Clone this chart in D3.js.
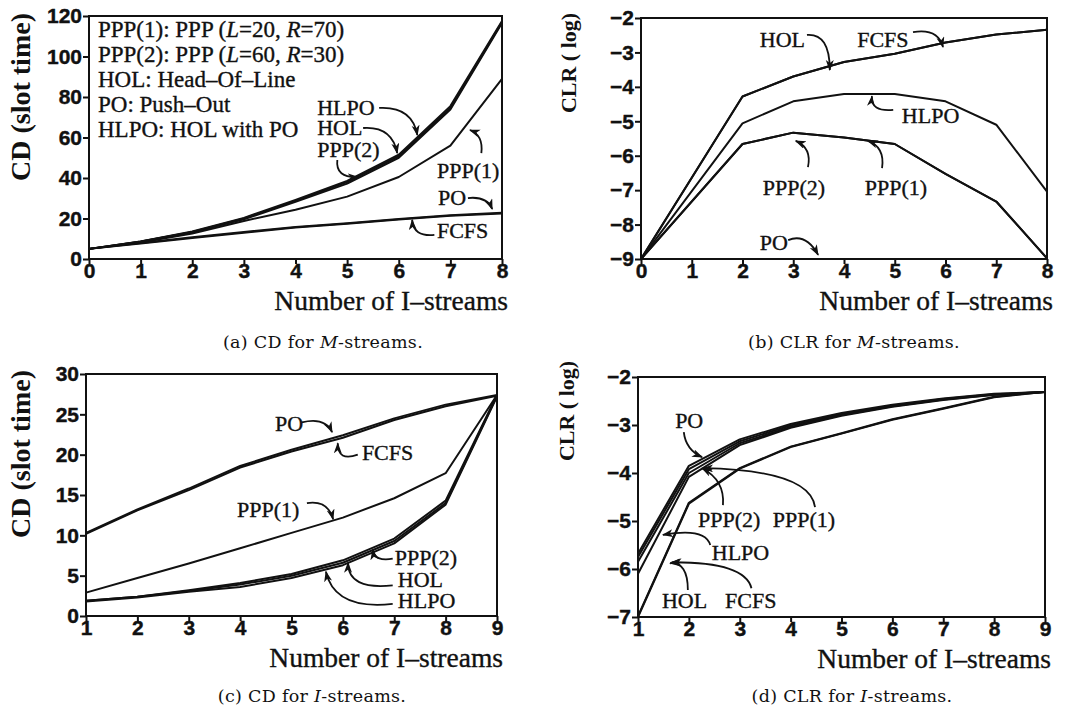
<!DOCTYPE html>
<html>
<head>
<meta charset="utf-8">
<script src="https://cdn.jsdelivr.net/npm/d3@7"></script>
<style>
  body { margin: 0; background: #fff; }
  svg { display: block; }
</style>
</head>
<body>
<div id="content"></div>
<script>
// ---- data ----
var xM = [0, 1, 2, 3, 4, 5, 6, 7, 8];
var xMclr = [0, 2, 3, 4, 5, 6, 7, 8];
var xI = [1, 2, 3, 4, 5, 6, 7, 8, 9];

// (a) CD for M-streams
var cdM_hlpo = [5, 8.7, 13.6, 20.3, 29.2, 38.6, 51.5, 75.5, 117.5];
var cdM_hol  = [5, 8.6, 13.4, 20.0, 28.7, 38.0, 50.8, 74.6, 117];
var cdM_ppp2 = [5, 8.5, 13.2, 19.6, 28.2, 37.2, 50.0, 73.8, 116.5];
var cdM_ppp1 = [5, 8.2, 12.6, 18.8, 24.3, 30.8, 40.5, 56, 89];
var cdM_po   = [5, 7.9, 10.7, 13.3, 15.8, 17.7, 19.8, 21.6, 22.8];
var cdM_fcfs = [5, 7.7, 10.4, 13.0, 15.5, 17.4, 19.5, 21.3, 22.5];

// (b) CLR for M-streams (log)
var clrM_hol  = [-9, -4.28, -3.70, -3.28, -3.04, -2.71, -2.48, -2.34];
var clrM_fcfs = [-9, -4.28, -3.70, -3.28, -3.04, -2.71, -2.48, -2.34];
var clrM_hlpo = [-9, -5.06, -4.42, -4.21, -4.21, -4.42, -5.10, -7.04];
var clrM_ppp1 = [-9, -5.66, -5.33, -5.47, -5.66, -6.53, -7.33, -8.98];
var clrM_ppp2 = [-9, -5.66, -5.33, -5.47, -5.66, -6.53, -7.33, -8.98];
var clrM_po   = [-9, -9, -9, -9, -9, -9, -9, -9];

// (c) CD for I-streams
var cdI_po   = [10.3, 13.2, 15.8, 18.6, 20.6, 22.4, 24.5, 26.2, 27.4];
var cdI_fcfs = [10.2, 13.1, 15.6, 18.4, 20.4, 22.1, 24.3, 26.0, 27.3];
var cdI_ppp1 = [2.9, 4.7, 6.5, 8.4, 10.3, 12.2, 14.6, 17.7, 27.4];
var cdI_ppp2 = [1.9, 2.4, 3.2, 4.1, 5.2, 6.9, 9.6, 14.3, 27.4];
var cdI_hol  = [1.9, 2.4, 3.1, 3.9, 5.0, 6.6, 9.3, 14.0, 27.3];
var cdI_hlpo = [1.8, 2.3, 3.0, 3.6, 4.7, 6.3, 9.0, 13.8, 27.2];

// (d) CLR for I-streams (log)
var clrI_po   = [-5.68, -3.85, -3.30, -2.98, -2.75, -2.58, -2.45, -2.35, -2.31];
var clrI_ppp2 = [-5.75, -3.92, -3.34, -3.01, -2.77, -2.60, -2.46, -2.36, -2.31];
var clrI_ppp1 = [-5.85, -4.00, -3.38, -3.04, -2.79, -2.61, -2.47, -2.37, -2.31];
var clrI_hlpo = [-6.10, -4.08, -3.42, -3.06, -2.81, -2.62, -2.48, -2.37, -2.31];
var clrI_hol  = [-7.00, -4.64, -3.91, -3.46, -3.18, -2.89, -2.66, -2.42, -2.31];
var clrI_fcfs = [-6.98, -4.62, -3.90, -3.45, -3.17, -2.88, -2.65, -2.41, -2.31];

// tick values
var ticksXM = [0, 1, 2, 3, 4, 5, 6, 7, 8];
var ticksXI = [1, 2, 3, 4, 5, 6, 7, 8, 9];
var ticksCdM = [0, 20, 40, 60, 80, 100, 120];
var ticksClr = [-9, -8, -7, -6, -5, -4, -3, -2];
var ticksCdI = [0, 5, 10, 15, 20, 25, 30];
var ticksClrI = [-7, -6, -5, -4, -3, -2];

// legend of panel (a); second item 1 = italic
var legendLines = [
  [["PPP(1): PPP ("], ["L", 1], ["=20, "], ["R", 1], ["=70)"]],
  [["PPP(2): PPP ("], ["L", 1], ["=60, "], ["R", 1], ["=30)"]],
  [["HOL: Head\u2013Of\u2013Line"]],
  [["PO: Push\u2013Out"]],
  [["HLPO: HOL with PO"]]
];

// annotations: label, text x/y, arrow start, control, tip (data units)
var notesA = [
  ["HLPO",   4.42, 71.1, 5.62, 74.6, 6.26, 75.5, 6.36, 61.2],
  ["HOL",    4.42, 61.2, 5.31, 64.7, 5.87, 65.7, 5.97, 52.3],
  ["PPP(2)", 4.42, 50.4, 4.81, 48.9, 4.77, 40.0, 5.21, 40.5],
  ["PPP(1)", 6.74, 40.0, 7.60, 52.3, 7.64, 61.2, 7.38, 63.7],
  ["PO",     6.76, 26.7, 7.34, 30.1, 7.71, 31.1, 7.81, 24.7],
  ["FCFS",   6.74, 10.4, 6.69, 11.9, 6.28, 10.9, 6.26, 19.3]
];
var notesB = [
  ["HOL",    2.34, -2.84, 3.27, -2.49, 3.72, -2.44, 3.72, -3.51],
  ["FCFS",   4.26, -2.84, 5.36, -2.41, 5.85, -2.29, 5.95, -2.84],
  ["HLPO",   5.14, -5.05, 4.97, -4.67, 4.52, -4.73, 4.55, -4.27],
  ["PPP(2)", 2.40, -7.14, 3.29, -6.33, 3.37, -5.78, 3.05, -5.57],
  ["PPP(1)", 4.41, -7.14, 4.75, -6.36, 4.81, -5.75, 4.47, -5.57],
  ["PO",     2.34, -8.74, 2.90, -8.45, 3.25, -8.24, 3.49, -8.88]
];
var notesC = [
  ["PO",     4.68, 22.9, 5.20, 24.0, 5.65, 24.7, 5.79, 22.8],
  ["FCFS",   6.37, 19.3, 6.29, 20.0, 5.90, 19.1, 5.90, 21.4],
  ["PPP(1)", 3.94, 12.3, 5.30, 14.0, 5.71, 14.4, 5.81, 12.0],
  ["PPP(2)", 7.01, 6.3, 6.97, 7.1, 6.62, 6.7, 6.58, 8.2],
  ["HOL",    7.07, 3.6, 6.97, 3.8, 6.10, 3.2, 6.10, 6.6],
  ["HLPO",   7.07, 1.0, 6.97, 1.5, 5.84, 0.7, 5.67, 5.5]
];
var notesD = [
  ["PO",     1.73, -3.06, 1.90, -3.15, 1.94, -3.52, 2.26, -3.67],
  ["PPP(2)", 2.18, -5.12, 2.67, -4.67, 2.71, -4.15, 2.26, -3.90],
  ["PPP(1)", 3.65, -5.12, 4.48, -4.71, 4.38, -3.94, 2.28, -3.90],
  ["HLPO",   2.45, -5.81, 2.42, -5.50, 2.32, -5.13, 1.49, -5.29],
  ["HOL",    1.47, -6.81, 1.98, -6.44, 1.98, -5.85, 1.63, -5.88],
  ["FCFS",   2.71, -6.81, 3.23, -6.40, 3.10, -5.85, 1.66, -5.86]
];

var ink = "#111";
var serif = "'Liberation Serif', 'Times New Roman', serif";
var w = 1085, h = 710;

var svg = d3.select("#content").append("svg")
    .attr("width", w)
    .attr("height", h);

svg.append("defs").append("marker")
    .attr("id", "tip")
    .attr("markerUnits", "userSpaceOnUse")
    .attr("markerWidth", 12)
    .attr("markerHeight", 10)
    .attr("refX", 10)
    .attr("refY", 4)
    .attr("orient", "auto")
    .append("path")
    .attr("d", "M0,0 L11,4 L0,8 L3,4 z")
    .attr("fill", ink);

// scanned text looks heavier than plain Times, so add a hairline stroke
function inked(sel) {
    return sel.attr("fill", ink).attr("stroke", ink).attr("stroke-width", 0.35);
}

function drawPanel(p) {
    var g = svg.append("g");
    var x = d3.scaleLinear().domain(p.xDomain).range([p.left, p.left + p.width]);
    var y = d3.scaleLinear().domain(p.yDomain).range([p.top + p.height, p.top]);

    // series
    var line = d3.line()
        .x(function(d) { return x(d[0]); })
        .y(function(d) { return y(d[1]); });
    p.series.forEach(function(s) {
        g.append("path")
            .datum(d3.zip(p.xs, s))
            .attr("d", line)
            .attr("fill", "none")
            .attr("stroke", ink)
            .attr("stroke-width", 2)
            .attr("stroke-linejoin", "round");
    });

    // axes
    var xa = g.append("g")
        .attr("transform", "translate(0," + (p.top + p.height) + ")")
        .call(d3.axisBottom(x).tickValues(p.xTicks).tickSizeInner(5).tickSizeOuter(0)
              .tickPadding(-1).tickFormat(d3.format("d")));
    var ya = g.append("g")
        .attr("transform", "translate(" + p.left + ",0)")
        .call(d3.axisLeft(y).tickValues(p.yTicks).tickSizeInner(6).tickSizeOuter(0)
              .tickPadding(1).tickFormat(d3.format("d")));
    [xa, ya].forEach(function(a) {
        a.select(".domain").remove();
        a.selectAll(".tick line").attr("stroke", ink).attr("stroke-width", 2);
        a.selectAll(".tick text")
            .attr("fill", ink)
            .attr("stroke", ink)
            .attr("stroke-width", 0.4)
            .style("font-family", "'Liberation Sans', Arial, sans-serif")
            .style("font-weight", "bold")
            .style("font-size", "21px");
    });

    g.append("rect")
        .attr("x", p.left).attr("y", p.top)
        .attr("width", p.width).attr("height", p.height)
        .attr("fill", "none")
        .attr("stroke", ink)
        .attr("stroke-width", 2);

    // axis titles
    inked(g.append("text"))
        .attr("x", p.left + p.width + 6)
        .attr("y", p.top + p.height + 51)
        .attr("text-anchor", "end")
        .style("font-family", serif)
        .style("font-size", "27.5px")
        .text("Number of I\u2013streams");

    g.append("text")
        .attr("transform", "translate(" + p.yTitleX + "," + p.yTitleY + ") rotate(-90)")
        .attr("text-anchor", "middle")
        .style("font-family", serif)
        .style("font-weight", "bold")
        .style("font-size", p.yTitleSize + "px")
        .attr("fill", ink)
        .text(p.yTitle);

    // caption
    var cap = g.append("text")
        .attr("x", p.capX)
        .attr("y", p.capY)
        .attr("text-anchor", "middle")
        .style("font-family", "'DejaVu Serif', serif")
        .style("font-size", "17.5px")
        .style("letter-spacing", "0.3px")
        .attr("fill", ink);
    cap.append("tspan").text(p.capA);
    cap.append("tspan").style("font-style", "italic").text(p.capI);
    cap.append("tspan").text("-streams.");

    // annotations
    p.notes.forEach(function(n) {
        inked(g.append("text"))
            .attr("x", x(n[1]))
            .attr("y", y(n[2]))
            .style("font-family", serif)
            .style("font-size", "22px")
            .text(n[0]);
        var path = d3.path();
        path.moveTo(x(n[3]), y(n[4]));
        path.quadraticCurveTo(x(n[5]), y(n[6]), x(n[7]), y(n[8]));
        g.append("path")
            .attr("d", path.toString())
            .attr("fill", "none")
            .attr("stroke", ink)
            .attr("stroke-width", 1.8)
            .attr("marker-end", "url(#tip)");
    });

    return {g: g, x: x, y: y};
}

var a = drawPanel({
    left: 89, top: 16, width: 413, height: 243,
    xDomain: [0, 8], yDomain: [0, 120], xs: xM,
    xTicks: ticksXM, yTicks: ticksCdM,
    series: [cdM_fcfs, cdM_po, cdM_ppp1, cdM_ppp2, cdM_hol, cdM_hlpo],
    yTitle: "CD (slot time)", yTitleX: 30, yTitleY: 97, yTitleSize: 28,
    capX: 323, capY: 348, capA: "(a) CD for ", capI: "M",
    notes: notesA
});

// legend block for (a)
legendLines.forEach(function(parts, i) {
    var t = inked(a.g.append("text"))
        .attr("x", 98)
        .attr("y", 37 + i * 25)
        .style("font-family", serif)
        .style("font-size", "23px");
    parts.forEach(function(s) {
        t.append("tspan").style("font-style", s[1] ? "italic" : "normal").text(s[0]);
    });
});

drawPanel({
    left: 641, top: 18, width: 406, height: 241,
    xDomain: [0, 8], yDomain: [-9, -2], xs: xMclr,
    xTicks: ticksXM, yTicks: ticksClr,
    series: [clrM_po, clrM_ppp2, clrM_ppp1, clrM_hlpo, clrM_fcfs, clrM_hol],
    yTitle: "CLR ( log)", yTitleX: 576, yTitleY: 63, yTitleSize: 22,
    capX: 854, capY: 348, capA: "(b) CLR for ", capI: "M",
    notes: notesB
});

drawPanel({
    left: 86, top: 374, width: 411, height: 242,
    xDomain: [1, 9], yDomain: [0, 30], xs: xI,
    xTicks: ticksXI, yTicks: ticksCdI,
    series: [cdI_fcfs, cdI_po, cdI_ppp1, cdI_ppp2, cdI_hol, cdI_hlpo],
    yTitle: "CD (slot time)", yTitleX: 30, yTitleY: 454, yTitleSize: 28,
    capX: 312, capY: 702, capA: "(c) CD for ", capI: "I",
    notes: notesC
});

drawPanel({
    left: 638, top: 377, width: 407, height: 240,
    xDomain: [1, 9], yDomain: [-7, -2], xs: xI,
    xTicks: ticksXI, yTicks: ticksClrI,
    series: [clrI_fcfs, clrI_hol, clrI_hlpo, clrI_ppp1, clrI_ppp2, clrI_po],
    yTitle: "CLR ( log)", yTitleX: 574, yTitleY: 411, yTitleSize: 22,
    capX: 852, capY: 702, capA: "(d) CLR for ", capI: "I",
    notes: notesD
});
</script>
</body>
</html>
